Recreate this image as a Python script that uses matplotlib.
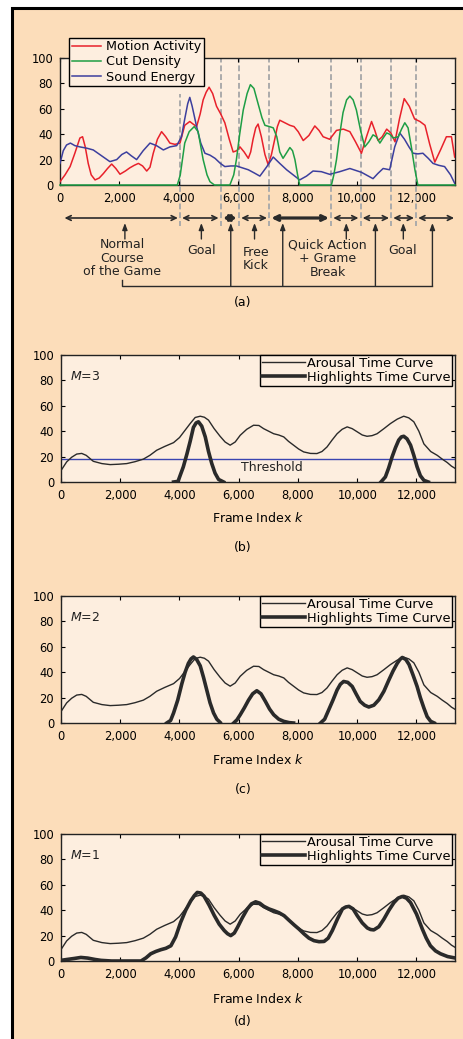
import numpy as np
import matplotlib
matplotlib.use("Agg")
import matplotlib.pyplot as plt
from matplotlib.patches import Rectangle
from matplotlib.lines import Line2D
from matplotlib.transforms import blended_transform_factory
from matplotlib.ticker import FuncFormatter, MultipleLocator

nan = np.nan

# ---------------- data (a) ----------------
motion_x = [0, 170, 340, 500, 670, 760, 850, 950, 1050, 1180, 1320, 1460, 1600, 1740, 1880, 2020,
            2200, 2350, 2500, 2640, 2780, 2920, 3030, 3140, 3280, 3420, 3560, 3700, 3870, 4040, 4120,
            4200, 4370, 4480, 4600, 4720, 4820, 4920, 5020, 5140, 5270, 5410, 5550, 5700, 5830, 5950,
            6060, 6200, 6340, 6420, 6500, 6590, 6670, 6780, 6900, 7010, 7120, 7230, 7320, 7400, 7570,
            7740, 7880, 8020, 8190, 8380, 8580, 8720, 8860, 9080, 9310, 9540, 9760, 9950, 10150, 10320,
            10490, 10600, 10710, 10850, 11000, 11140, 11280, 11430, 11590, 11760, 11940, 12120, 12290,
            12450, 12620, 12820, 13010, 13180, 13290]
motion_y = [2.6, 8, 14.5, 25, 37, 38, 30, 17, 8, 4, 5.5, 9, 13, 16.5, 13, 8.5,
            11, 13.5, 15.5, 17, 15, 11, 14, 25, 36, 42, 38, 33, 32, 33, 40,
            47, 50, 48, 46, 56, 67, 73, 77, 72, 62, 56, 49, 36, 26, 27,
            30, 26, 21, 26, 36, 45, 48, 38, 24, 16, 24, 36, 46, 51, 49,
            47, 46, 42, 35, 39, 46.5, 43, 38, 36, 43, 44, 42, 34, 25, 38,
            50, 43, 35, 38, 44, 41, 34, 52, 68, 62, 52, 50, 47,
            32, 18, 28, 38, 38, 22]

cut_x = [0, 3950, 4050, 4200, 4350, 4520, 4650, 4820, 4950, 5050, 5200, 5720, 5850, 5940, 6050,
         6170, 6300, 6410, 6530, 6670, 6800, 6900, 7050, 7180, 7300, 7400, 7510, 7620, 7740, 7830,
         7910, 8000, 8070, 9140, 9220, 9310, 9420, 9530, 9650, 9760, 9870, 9980, 10120, 10260, 10400,
         10540, 10650, 10770, 10880, 11000, 11100, 11220, 11390, 11500, 11610, 11720, 11830, 11950,
         12050, 13300]
cut_y = [0, 0, 8, 33, 42, 46, 42, 20, 8, 2.6, 0, 0, 8, 20, 40,
         59, 72, 79, 76, 64, 53, 47, 46, 45, 38, 26, 21, 25, 29.5, 27,
         20, 8, 0, 0, 8, 20, 40, 57, 67, 70, 67, 59, 43, 30, 34,
         39.5, 38, 33, 37, 41, 40, 37, 38, 44, 49, 45, 30, 12,
         0, 0]

sound_x = [0, 110, 220, 350, 500, 670, 900, 1120, 1400, 1680, 1910, 2080, 2240, 2400, 2580, 2800,
           3030, 3250, 3480, 3700, 3930, 4090, 4200, 4300, 4370, 4450, 4600, 4740, 4880, 5050, 5220,
           5400, 5550, 5750, 5940, 6140, 6340, 6540, 6730, 6950, 7180, 7400, 7630, 7850, 8070, 8300,
           8520, 8800, 9080, 9420, 9760, 10150, 10540, 10700, 10880, 11100, 11270, 11440, 11600, 11750,
           11890, 12050, 12220, 12400, 12560, 12750, 12950, 13150, 13290]
sound_y = [17, 27, 31.5, 33, 31, 30, 29, 27.6, 23, 18.4, 20, 24, 26, 23, 20, 27,
           33, 31, 27.6, 30, 31, 38, 52, 64, 69, 62, 46, 33, 25, 23.5, 21,
           17, 14.5, 15, 15, 13.5, 12, 9.5, 7, 14, 22, 17, 12, 8, 4, 7,
           11, 10.5, 8.4, 10.5, 13, 10, 5, 9, 13, 12, 30, 41, 36, 30,
           25, 24.5, 25, 21, 17, 15.5, 14.5, 8, 1.3]

series_labels = ["Motion Activity", "Cut Density", "Sound Energy"]
boundaries = [4040, 5410, 6030, 7040, 9130, 10120, 11150, 11990]
event_labels = ["Normal\nCourse\nof the Game", "Goal", "Free\nKick", "Quick Action\n+ Grame\nBreak", "Goal"]
event_x = [2100, 4760, 6590, 9010, 11530]

# ---------------- data (b)-(d) ----------------
arousal_x = [0, 190, 360, 530, 700, 850, 1090, 1380, 1660, 1940, 2220, 2500, 2780, 3000, 3230, 3500,
             3800, 4000, 4190, 4360, 4530, 4700, 4840, 4980, 5170, 5370, 5540, 5710, 5880, 6050, 6270,
             6500, 6680, 6840, 7010, 7180, 7350, 7520, 7680, 7850, 8020, 8190, 8420, 8640, 8810, 8980,
             9150, 9320, 9490, 9660, 9830, 10000, 10170, 10330, 10500, 10670, 10900, 11120, 11350, 11570,
             11740, 11910, 12080, 12250, 12480, 12700, 12870, 13040, 13180, 13320]
arousal_y = [9, 15.8, 19.5, 22, 22.5, 21, 16.3, 14.5, 13.7, 14, 14.5, 16, 18, 21, 25, 28,
             31, 35, 40.8, 46, 50.8, 51.8, 51, 48.7, 42, 36, 31.5, 29, 31.5, 36.8, 41.5,
             44.7, 44.5, 42, 40, 38, 37, 35.5, 32, 29, 26, 23.7, 22.5, 22.4, 24, 27.6,
             33, 38, 41.5, 43.4, 42, 39.5, 37, 36, 36.5, 38, 42, 46, 49.5, 51.8,
             50.5, 47.4, 40, 30, 24, 21, 18, 15.3, 12.5, 10.5]

hb_x = [3800, 3950, 4020, 4130, 4250, 4360, 4470, 4560, 4640, 4750, 4870, 4980, 5090, 5200, 5320, 5490,
        8000, 10800, 10950, 11060, 11180, 11290, 11400, 11490, 11570, 11680, 11800, 11910, 12020,
        12130, 12250, 12400]
hb_y = [0, 0.5, 5, 12, 22, 32, 43, 46.5, 47.4, 44, 35.5, 24, 14.5, 7, 2, 0,
        nan, 0, 4, 11, 20, 27, 33, 35.5, 36, 34, 29, 21, 12,
        5, 1.3, 0]

hc_x = [3570, 3700, 3800, 3940, 4080, 4190, 4300, 4390, 4470, 4580, 4700, 4810, 4920, 5030, 5150, 5260,
        5370, 5600, 5830, 5940, 6050, 6190, 6330, 6470, 6610, 6750, 6900, 7040, 7180, 7350, 7520,
        7700, 7850, 8300, 8760, 8900, 9040, 9180, 9320, 9430, 9540, 9680, 9830, 9960, 10100, 10250,
        10390, 10560, 10730, 10900, 11070, 11210, 11350, 11440, 11520, 11640, 11750, 11880, 12020,
        12130, 12250, 12360, 12480, 12600]
hc_y = [0, 2, 7.9, 18, 31, 40, 47, 50.5, 52, 50, 45, 36, 26, 16, 7.9, 3,
        0.5, nan, 0, 2.5, 6.5, 12, 18, 23, 25.4, 23, 17, 11, 6.5, 3, 1.3,
        0.3, 0, nan, 0, 3, 10.5, 18, 26, 30.5, 32.7, 32, 28.8, 23, 17, 14,
        12.6, 14, 18.3, 25, 34, 41, 47, 50, 51.6, 50, 46, 38, 28.8,
        20, 11.8, 5, 1.3, 0]

hd_x = [0, 200, 450, 670, 900, 1150, 1350, 1700, 2200, 2700, 2870, 3030, 3200, 3370, 3540, 3710,
        3870, 4040, 4210, 4380, 4500, 4600, 4720, 4830, 5000, 5170, 5340, 5510, 5620, 5730, 5850,
        5960, 6120, 6290, 6430, 6570, 6710, 6850, 7020, 7190, 7360, 7530, 7700, 7870, 8040, 8200,
        8370, 8540, 8710, 8880, 9020, 9160, 9330, 9500, 9610, 9720, 9860, 10000, 10170, 10340, 10450,
        10560, 10730, 10900, 11070, 11240, 11380, 11520, 11660, 11800, 12000, 12200, 12330, 12470,
        12640, 12810, 13050, 13320]
hd_y = [0.5, 1.2, 2, 2.8, 2.3, 1.2, 0.5, 0, 0, 0, 2.5, 5.7, 7.5, 8.9, 10, 12,
        19, 30.5, 40, 47.4, 51.5, 54, 53.5, 51, 44, 36, 29, 24, 21.5, 20, 22,
        26.6, 34, 41, 45, 46.6, 45.5, 43, 41, 39.6, 38, 35.7, 32, 28.4, 25, 21.4,
        18, 16, 15.2, 15.4, 18, 24, 33, 41, 42.5, 43, 41, 35.7, 30, 26, 24.8,
        24.5, 27, 33, 40, 46, 49.5, 50.8, 49.5, 46, 37, 25, 18, 12,
        8, 5.7, 3.5, 2.3]

threshold = 18.5
m_values = [3, 2, 1]
panel_tags = ["(a)", "(b)", "(c)", "(d)"]
curve_labels = ["Arousal Time Curve", "Highlights Time Curve"]

# ---------------- style ----------------
W, H = 463, 1039
PEACH = "#FCDDBA"
AXCOL = "#FDEEDF"
RED, GREEN, BLUE = "#E8212B", "#1E9E45", "#3C3F9E"
DARK = "#2a2a2a"
DASH = "#ababab"
XMAX = 13300
plt.rcParams["font.family"] = ["DejaVu Sans"]
plt.rcParams["mathtext.fontset"] = "dejavusans"

fig = plt.figure(figsize=(W / 100, H / 100), dpi=100)
fig.patch.set_facecolor("white")
fig.patches.append(Rectangle((12 / W, -0.05), 1.2, 1 - 8 / H + 0.05, transform=fig.transFigure,
                             facecolor=PEACH, edgecolor="black", lw=2.2, zorder=-10))


def fy(py):
    return 1 - py / H


def make_axes(left, right, top, bottom):
    ax = fig.add_axes([left / W, 1 - bottom / H, (right - left) / W, (bottom - top) / H])
    ax.set_facecolor(AXCOL)
    ax.set_xlim(0, XMAX)
    ax.set_ylim(0, 100)
    ax.xaxis.set_major_locator(MultipleLocator(2000))
    ax.yaxis.set_major_locator(MultipleLocator(20))
    ax.xaxis.set_major_formatter(FuncFormatter(lambda v, p: f"{int(v):,}"))
    ax.tick_params(direction="in", length=3, width=0.8, top=True, right=True,
                   labelsize=8.3, colors="black")
    ax.tick_params(axis="y", pad=5)
    ax.tick_params(axis="x", pad=5)
    for s in ax.spines.values():
        s.set_linewidth(1.0)
        s.set_color("#222222")
    return ax


# ---------------- panel (a) ----------------
ax = make_axes(60, 455, 58, 185)
for i, b in enumerate(boundaries):
    ax.axvline(b, ymin=0, ymax=0.72 if i == 0 else 1, color=DASH, lw=1.4,
               ls=(0, (3, 1.5)), zorder=1)
la, = ax.plot(motion_x, motion_y, color=RED, lw=1.1, zorder=3)
lc, = ax.plot(cut_x, cut_y, color=GREEN, lw=1.1, zorder=4, clip_on=False)
ls_, = ax.plot(sound_x, sound_y, color=BLUE, lw=1.1, zorder=3)
leg = ax.legend([la, lc, ls_], series_labels, loc="upper left",
                bbox_to_anchor=(69 / W, fy(37.5)), bbox_transform=fig.transFigure,
                borderaxespad=0, fontsize=9.2, handlelength=2.3, handletextpad=0.4,
                labelspacing=0.18, borderpad=0.2, fancybox=False, framealpha=1,
                facecolor=AXCOL, edgecolor="black")
leg.get_frame().set_linewidth(1.0)

tr = blended_transform_factory(ax.transData, fig.transFigure)
for b in boundaries:
    fig.add_artist(Line2D([b, b], [fy(186), fy(226)], transform=tr, color=DASH, lw=1.4,
                          ls=(0, (3, 1.5)), zorder=2))

row = fy(218)
seg_edges = [150] + boundaries + [13270]
for i in range(len(seg_edges) - 1):
    x1 = seg_edges[i] + (0 if i == 0 else 70)
    x2 = seg_edges[i + 1] - (0 if i == len(seg_edges) - 2 else 70)
    lw = 2.3 if i in (2, 4) else 1.2
    ax.annotate("", xy=(x2, row), xytext=(x1, row), xycoords=tr, textcoords=tr,
                arrowprops=dict(arrowstyle="<->,head_length=0.35,head_width=0.17", lw=lw,
                                color=DARK, shrinkA=0, shrinkB=0),
                annotation_clip=False)

for x in [2185, 4760, 6550, 9640, 11560]:
    ax.annotate("", xy=(x, fy(223)), xytext=(x, fy(239)), xycoords=tr, textcoords=tr,
                arrowprops=dict(arrowstyle="-|>,head_length=0.4,head_width=0.15", lw=1.0,
                                color=DARK, shrinkA=0, shrinkB=0), annotation_clip=False)
for x in [5750, 7500, 10620, 12540]:
    ax.annotate("", xy=(x, fy(223)), xytext=(x, fy(286)), xycoords=tr, textcoords=tr,
                arrowprops=dict(arrowstyle="-|>,head_length=0.4,head_width=0.15", lw=1.0,
                                color=DARK, shrinkA=0, shrinkB=0), annotation_clip=False)
fig.add_artist(Line2D([2084, 2084, 12540], [fy(280), fy(286), fy(286)], transform=tr,
                      color=DARK, lw=1.0))

event_y = [258, 251, 259, 259, 251]
for s, x, y in zip(event_labels, event_x, event_y):
    fig.text(x, fy(y), s, transform=tr, ha="center", va="center", fontsize=9,
             linespacing=1.05, color="#222222")
fig.text(243 / W, fy(303), panel_tags[0], ha="center", va="center", fontsize=9)

# ---------------- panels (b)-(d) ----------------
highlights = [(hb_x, hb_y), (hc_x, hc_y), (hd_x, hd_y)]
tops = [355, 596, 834]
xlab_y = [518, 760, 999]
tag_y = [548, 790, 1022]
for k in range(3):
    top = tops[k]
    ax = make_axes(61, 455, top, top + 127)
    l1, = ax.plot(arousal_x, arousal_y, color=DARK, lw=1.0, zorder=3)
    hx, hy = highlights[k]
    l2, = ax.plot(hx, hy, color=DARK, lw=2.6, zorder=4)
    if k == 0:
        ax.axhline(threshold, color="#3A44B0", lw=1.0, zorder=2)
        ax.text(7130, 11.8, "Threshold", ha="center", va="center", fontsize=9, color="#222222")
    ax.text(0.023, 0.83, r"$M$=" + str(m_values[k]), transform=ax.transAxes, ha="left",
            va="center", fontsize=9, color="#222222")
    lg = ax.legend([l1, l2], curve_labels, loc="upper right",
                   bbox_to_anchor=(452 / W, fy(top)), bbox_transform=fig.transFigure,
                   borderaxespad=0, fontsize=9.3, handlelength=3.3, handletextpad=0.15,
                   labelspacing=0.05, borderpad=0.15, fancybox=False, framealpha=1,
                   facecolor=AXCOL, edgecolor="black")
    lg.get_frame().set_linewidth(1.0)
    fig.text(258 / W, fy(xlab_y[k]), r"Frame Index $k$", ha="center", va="center", fontsize=9)
    fig.text(243 / W, fy(tag_y[k]), panel_tags[k + 1], ha="center", va="center", fontsize=9)

fig.savefig("out.png", dpi=100, facecolor=fig.get_facecolor())
